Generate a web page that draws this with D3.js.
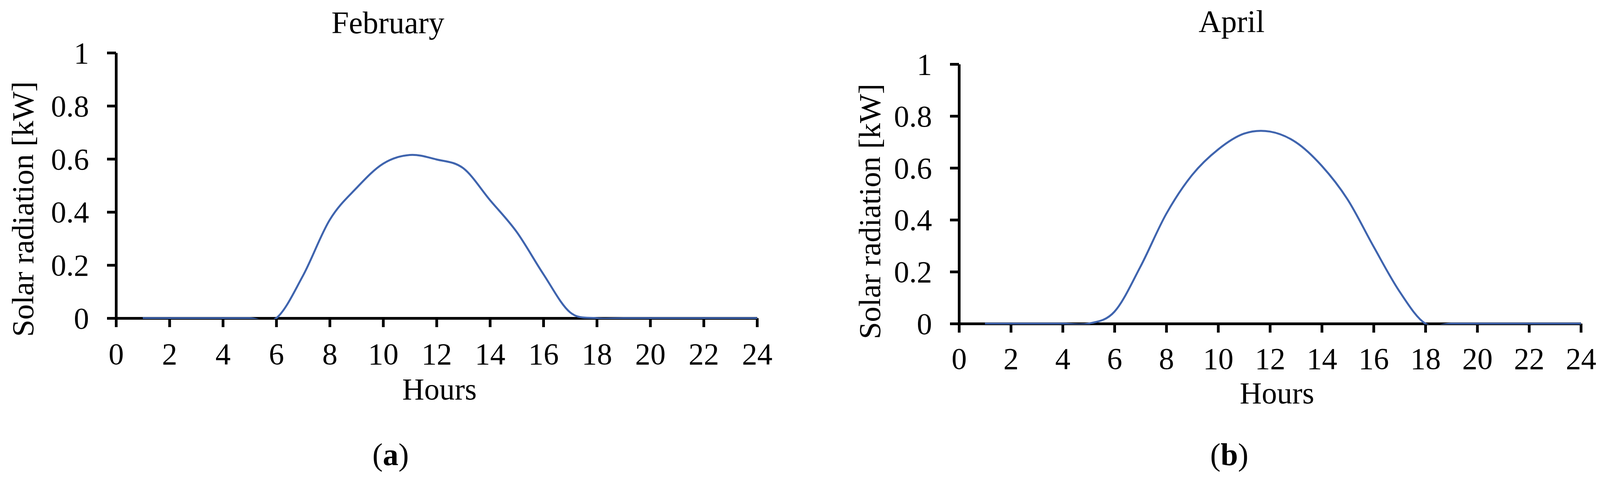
<!DOCTYPE html>
<html>
<head>
<meta charset="utf-8">
<script src="https://cdn.jsdelivr.net/npm/d3@7"></script>
<style>
  html, body { margin: 0; padding: 0; background: #fff; }
  svg { display: block; }
  text { font-family: "Liberation Serif", "Times New Roman", serif; fill: #000; }
</style>
</head>
<body>
<svg id="chart" width="4105" height="1223"></svg>
<script>
// ---- data ----
const hours = [1,2,3,4,5,6,7,8,9,10,11,12,13,14,15,16,17,18,19,20,21,22,23,24];
const february = [0,0,0,0,0,0,0.16,0.37,0.49,0.582,0.615,0.598,0.565,0.445,0.325,0.166,0.022,0,0,0,0,0,0,0];
const april    = [0,0,0,0,0,0.046,0.219,0.423,0.573,0.671,0.732,0.74,0.699,0.608,0.478,0.297,0.124,0,0,0,0,0,0,0];
const xTicks = [0,2,4,6,8,10,12,14,16,18,20,22,24];
const yTicks = [0,0.2,0.4,0.6,0.8,1];
const yTickLabels = ["0","0.2","0.4","0.6","0.8","1"];
const titles = ["February","April"];
const panelLabels = ["a","b"];
const xTitle = "Hours";
const yTitle = "Solar radiation [kW]";

// ---- layout ----
const panels = [
  { series: february, title: titles[0], label: panelLabels[0],
    x0: 297, x1: 1938, y0: 814, y1: 135,
    titleX: 993, titleY: 85, hoursX: 1125, hoursY: 1022,
    yLabX: 85, yLabY: 535, capX: 1000, capY: 1190, xLabOff: 118 },
  { series: april, title: titles[1], label: panelLabels[1],
    x0: 2455, x1: 4047, y0: 828, y1: 164,
    titleX: 3153, titleY: 82, hoursX: 3269, hoursY: 1032,
    yLabX: 2253, yLabY: 541, capX: 3147, capY: 1190, xLabOff: 116 }
];

const svg = d3.select("#chart");
svg.append("rect").attr("width", 4105).attr("height", 1223).attr("fill", "#fff");

const FS = 78;
const lineColor = "#3F64AE";

panels.forEach((p, i) => {
  const x = d3.scaleLinear().domain([0, 24]).range([p.x0, p.x1]);
  const y = d3.scaleLinear().domain([0, 1]).range([p.y0, p.y1]);
  const g = svg.append("g");

  // x axis
  const xa = g.append("g")
    .attr("transform", `translate(0,${p.y0})`)
    .call(d3.axisBottom(x).tickValues(xTicks).tickSize(23).tickSizeOuter(0).tickFormat(d3.format("d")));
  xa.selectAll("path.domain").attr("stroke", "#000").attr("stroke-width", 7);
  xa.selectAll(".tick line").attr("stroke", "#000").attr("stroke-width", 7);
  xa.selectAll(".tick text")
    .attr("y", p.xLabOff).attr("dy", 0)
    .style("font-size", FS + "px").style("font-family", '"Liberation Serif", serif').attr("fill", "#000");

  // y axis
  const ya = g.append("g")
    .attr("transform", `translate(${p.x0},0)`)
    .call(d3.axisLeft(y).tickValues(yTicks).tickSize(23).tickSizeOuter(0)
      .tickFormat((d, k) => yTickLabels[k]));
  ya.selectAll("path.domain").attr("stroke", "#000").attr("stroke-width", 7);
  ya.selectAll(".tick line").attr("stroke", "#000").attr("stroke-width", 7);
  ya.selectAll(".tick text")
    .attr("x", -69).attr("dy", "0.34em")
    .style("font-size", FS + "px").style("font-family", '"Liberation Serif", serif').attr("fill", "#000");

  // clip for line (plot area)
  const clipId = "clip" + i;
  svg.append("clipPath").attr("id", clipId)
    .append("rect")
    .attr("x", p.x0).attr("y", p.y1 - 10)
    .attr("width", p.x1 - p.x0 + 10).attr("height", p.y0 - p.y1 + 12);

  const line = d3.line()
    .x((d, k) => x(hours[k]))
    .y(d => y(d))
    .curve(d3.curveCardinal.tension(0));

  g.append("path")
    .datum(p.series)
    .attr("d", line)
    .attr("fill", "none")
    .attr("stroke", lineColor)
    .attr("stroke-width", 5)
    .attr("clip-path", `url(#${clipId})`);

  // titles
  g.append("text").attr("x", p.titleX).attr("y", p.titleY)
    .attr("text-anchor", "middle").style("font-size", "80px").text(p.title);

  g.append("text").attr("x", p.hoursX).attr("y", p.hoursY)
    .attr("text-anchor", "middle").style("font-size", FS + "px").text(xTitle);

  g.append("text")
    .attr("transform", `translate(${p.yLabX},${p.yLabY}) rotate(-90)`)
    .attr("text-anchor", "middle").style("font-size", "79px").text(yTitle);

  const cap = g.append("text").attr("x", p.capX).attr("y", p.capY)
    .attr("text-anchor", "middle").style("font-size", "80px");
  cap.append("tspan").text("(");
  cap.append("tspan").attr("font-weight", "bold").text(p.label);
  cap.append("tspan").text(")");
});
</script>
</body>
</html>
